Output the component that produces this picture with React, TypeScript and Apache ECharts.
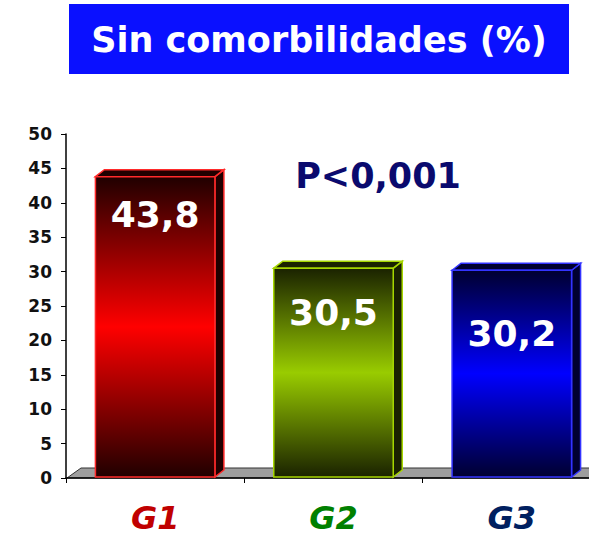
import React, { useEffect, useRef } from "react";
import * as echarts from "echarts";

const categories = ["G1", "G2", "G3"];
const values = [43.8, 30.5, 30.2];
const valueLabels = ["43,8", "30,5", "30,2"];
const yTicks = [0, 5, 10, 15, 20, 25, 30, 35, 40, 45, 50];
const catColors = ["#c00000", "#008000", "#002060"];
const barMid = ["#ff0000", "#99cc00", "#0000ff"];
const barDark = ["#200000", "#1a2200", "#000030"];
const barBorder = ["#ff2a2a", "#a6d600", "#3333ff"];
const labelDy = [38, 44, 63];

export default function App() {
  const ref = useRef<HTMLDivElement>(null);
  useEffect(() => {
    const chart = echarts.init(ref.current!, null, { renderer: "svg" });
    const depthX = 9;
    const depthY = 7;
    chart.setOption({
      animation: false,
      grid: { left: 66, right: 19, top: 134, bottom: 67, containLabel: false },
      xAxis: {
        type: "category",
        data: categories,
        axisLine: { lineStyle: { color: "#000", width: 1.5 } },
        axisTick: { show: true, length: 5, lineStyle: { color: "#000" } },
        axisLabel: {
          margin: 24,
          fontSize: 32,
          fontWeight: "bold",
          fontStyle: "italic",
          fontFamily: "Comic Sans MS, DejaVu Sans, sans-serif",
          color: (v: string, i: number) => catColors[i],
        },
      },
      yAxis: {
        type: "value",
        min: 0,
        max: 50,
        interval: 5,
        splitLine: { show: false },
        axisLine: { show: true, lineStyle: { color: "#000", width: 1.5 } },
        axisTick: { show: true, length: 5, lineStyle: { color: "#000" } },
        axisLabel: {
          margin: 14,
          fontSize: 17,
          fontWeight: "bold",
          fontFamily: "DejaVu Sans, sans-serif",
          color: "#111",
          formatter: (v: number) => (yTicks.includes(v) ? String(v) : ""),
        },
      },
      graphic: [
        {
          type: "rect",
          shape: { x: 69, y: 4, width: 500, height: 70 },
          style: { fill: "#0a10ff" },
        },
        {
          type: "text",
          x: 319,
          y: 40,
          style: {
            text: "Sin comorbilidades (%)",
            fill: "#fff",
            font: "bold 35px 'Comic Sans MS', 'DejaVu Sans', sans-serif",
            textAlign: "center",
            textVerticalAlign: "middle",
          },
        },
        {
          type: "polygon",
          shape: { points: [[67, 478], [81, 468], [640, 468], [626, 478]] },
          style: { fill: "#9e9e9e", stroke: "#333", lineWidth: 1 },
        },
        {
          type: "text",
          x: 378,
          y: 176,
          z: 10,
          style: {
            text: "P<0,001",
            fill: "#0a0a6e",
            font: "bold 35px 'Comic Sans MS', 'DejaVu Sans', sans-serif",
            textAlign: "center",
            textVerticalAlign: "middle",
          },
        },
      ],
      series: [
        {
          type: "custom",
          data: values.map((v, i) => [i, v]),
          renderItem: (params: any, api: any) => {
            const i = api.value(0);
            const v = api.value(1);
            const top = api.coord([i, v]);
            const base = api.coord([i, 0]);
            const band = api.size([1, 0])[0];
            const w = band * 0.67;
            const x0 = top[0] - w / 2;
            const x1 = top[0] + w / 2;
            const yT = top[1];
            const yB = base[1] - 1;
            const grad = new echarts.graphic.LinearGradient(0, 0, 0, 1, [
              { offset: 0, color: barDark[i] },
              { offset: 0.5, color: barMid[i] },
              { offset: 1, color: barDark[i] },
            ]);
            return {
              type: "group",
              children: [
                {
                  type: "polygon",
                  shape: { points: [[x1, yT], [x1 + depthX, yT - depthY], [x1 + depthX, yB - depthY], [x1, yB]] },
                  style: { fill: barDark[i], stroke: barBorder[i], lineWidth: 1.5 },
                },
                {
                  type: "polygon",
                  shape: { points: [[x0, yT], [x0 + depthX, yT - depthY], [x1 + depthX, yT - depthY], [x1, yT]] },
                  style: { fill: barDark[i], stroke: barBorder[i], lineWidth: 1.5 },
                },
                {
                  type: "rect",
                  shape: { x: x0, y: yT, width: w, height: yB - yT },
                  style: { fill: grad, stroke: barBorder[i], lineWidth: 1.5 },
                },
                {
                  type: "text",
                  x: top[0],
                  y: yT + labelDy[i],
                  style: {
                    text: valueLabels[i],
                    fill: "#fff",
                    font: "bold 36px 'Comic Sans MS', 'DejaVu Sans', sans-serif",
                    textAlign: "center",
                    textVerticalAlign: "middle",
                  },
                },
              ],
            };
          },
        },
      ],
    });
    return () => chart.dispose();
  }, []);
  return (
    <div style={{ width: 589, height: 545, position: "absolute", left: 0, top: 0, overflow: "hidden" }}>
      <div ref={ref} style={{ width: 620, height: 545 }} />
    </div>
  );
}
